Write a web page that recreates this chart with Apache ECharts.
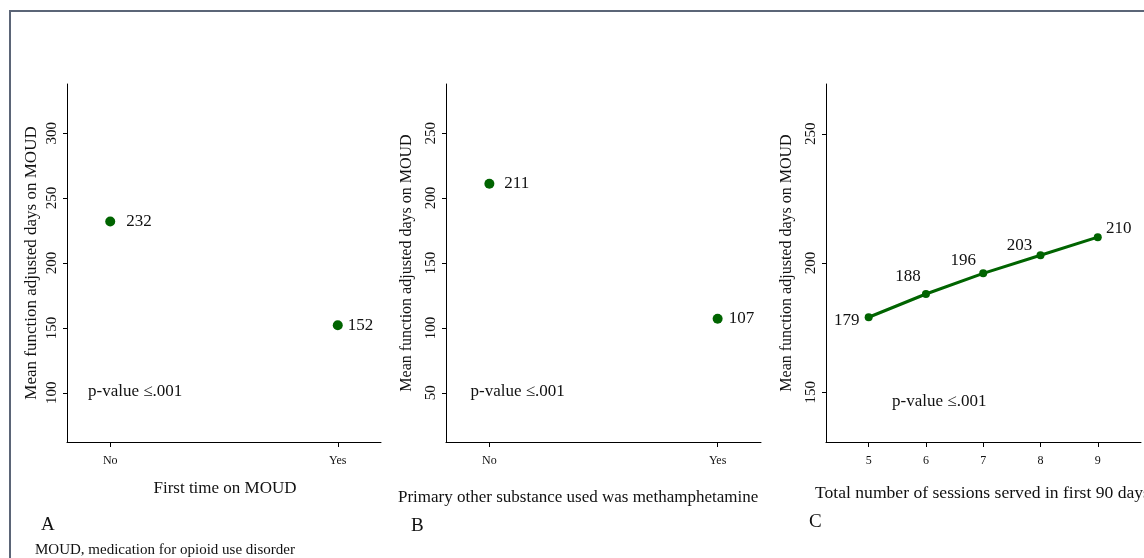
<!DOCTYPE html>
<html>
<head>
<meta charset="utf-8">
<script src="https://cdn.jsdelivr.net/npm/echarts@6/dist/echarts.min.js"></script>
<style>
html,body{margin:0;padding:0;background:#fff;}
#chart{width:1144px;height:558px;}
</style>
</head>
<body>
<div id="chart"></div>
<script>
// ---- data ----
const catsA = ['No', 'Yes'];
const valsA = [232, 152];
const catsB = ['No', 'Yes'];
const valsB = [211, 107];
const sessionsC = [5, 6, 7, 8, 9];
const valsC = [179, 188, 196, 203, 210];
const yTicksA = [100, 150, 200, 250, 300];
const yTicksB = [50, 100, 150, 200, 250];
const yTicksC = [150, 200, 250];
const pText = 'p-value \u2264.001';
const pPosA = [-0.1, 100.7];
const pPosB = [-0.085, 51];
const pPosC = [5.4, 146.3];

const FONT = '"Liberation Serif", "Times New Roman", serif';
const TXT = '#111';
const GREEN = '#006400';

function xAxisCat(gi, cats) {
  const vals = cats.map((c, i) => i);
  return {
    gridIndex: gi, type: 'value', min: -0.19, max: 1.19,
    axisLine: {show: true, onZero: false, lineStyle: {color: '#000', width: 1}},
    axisTick: {show: true, customValues: vals, length: 5, lineStyle: {color: '#000'}},
    axisLabel: {show: true, customValues: vals, margin: 13, fontFamily: FONT, fontSize: 12, color: TXT,
      formatter: v => cats[Math.round(v)]},
    splitLine: {show: false}
  };
}
function yAxisV(gi, min, max, ticks, nameSize, gap) {
  return {
    gridIndex: gi, type: 'value', min: min, max: max,
    name: 'Mean function adjusted days on MOUD', nameLocation: 'middle', nameRotate: 90,
    nameGap: gap, nameTextStyle: {fontFamily: FONT, fontSize: nameSize, color: TXT},
    axisLine: {show: true, onZero: false, lineStyle: {color: '#000', width: 1}},
    axisTick: {show: true, customValues: ticks, length: 4, lineStyle: {color: '#000'}},
    axisLabel: {show: true, customValues: ticks, rotate: 90, margin: 7, fontFamily: FONT, fontSize: 15, color: TXT},
    splitLine: {show: false}
  };
}
const valLabel = {show: true, fontFamily: FONT, fontSize: 17, color: TXT, opacity: 1};
function pSeries(xi, pos) {
  return {
    type: 'scatter', xAxisIndex: xi, yAxisIndex: xi, silent: true,
    symbolSize: 1, itemStyle: {color: 'rgba(0,0,0,0)', opacity: 1},
    data: [pos],
    label: {show: true, position: 'right', distance: 0, formatter: pText,
      fontFamily: FONT, fontSize: 17, color: TXT, opacity: 1}
  };
}

const distA = [11, 5];
const distB = [10, 6];
const offC = [[-22, 3], [-18, -17], [-20, -13], [-21, -10], [21, -9]];

const option = {
  animation: false,
  backgroundColor: '#fff',
  grid: [
    {left: 67, top: 84, width: 314, height: 358},
    {left: 446, top: 84, width: 315, height: 358},
    {left: 826, top: 84, width: 315, height: 358}
  ],
  xAxis: [
    xAxisCat(0, catsA),
    xAxisCat(1, catsB),
    {
      gridIndex: 2, type: 'value', min: 4.255, max: 9.755,
      axisLine: {show: true, onZero: false, lineStyle: {color: '#000', width: 1}},
      axisTick: {show: true, customValues: sessionsC, length: 5, lineStyle: {color: '#000'}},
      axisLabel: {show: true, customValues: sessionsC, margin: 13, fontFamily: FONT, fontSize: 12, color: TXT},
      splitLine: {show: false}
    }
  ],
  yAxis: [
    yAxisV(0, 62.1, 337.9, yTicksA, 17, 27),
    yAxisV(1, 12.1, 287.9, yTicksB, 16, 31),
    yAxisV(2, 130.7, 269.3, yTicksC, 16, 31)
  ],
  series: [
    {
      type: 'scatter', xAxisIndex: 0, yAxisIndex: 0, symbolSize: 10,
      itemStyle: {color: GREEN, opacity: 1},
      data: valsA.map((v, i) => ({value: [i, v], label: Object.assign({}, valLabel, {position: 'right', distance: distA[i]})}))
    },
    {
      type: 'scatter', xAxisIndex: 1, yAxisIndex: 1, symbolSize: 10,
      itemStyle: {color: GREEN, opacity: 1},
      data: valsB.map((v, i) => ({value: [i, v], label: Object.assign({}, valLabel, {position: 'right', distance: distB[i]})}))
    },
    {
      type: 'line', xAxisIndex: 2, yAxisIndex: 2, symbol: 'circle', symbolSize: 8, showSymbol: true,
      lineStyle: {color: GREEN, width: 3}, itemStyle: {color: GREEN, opacity: 1},
      data: sessionsC.map((s, i) => ({value: [s, valsC[i]],
        label: Object.assign({}, valLabel, {position: 'inside', offset: offC[i]})}))
    },
    pSeries(0, pPosA),
    pSeries(1, pPosB),
    pSeries(2, pPosC)
  ],
  graphic: [
    {type: 'rect', shape: {x: 10, y: 11, width: 1300, height: 700}, style: {fill: 'none', stroke: '#5b6577', lineWidth: 2}, silent: true},
    {type: 'text', x: 225, y: 489, style: {text: 'First time on MOUD', font: '17px ' + FONT, fill: TXT, textAlign: 'center', textVerticalAlign: 'middle'}},
    {type: 'text', x: 398, y: 498, style: {text: 'Primary other substance used was methamphetamine', font: '17px ' + FONT, fill: TXT, textAlign: 'left', textVerticalAlign: 'middle'}},
    {type: 'text', x: 815, y: 493, style: {text: 'Total number of sessions served in first 90 days', font: '17.6px ' + FONT, fill: TXT, textAlign: 'left', textVerticalAlign: 'middle'}},
    {type: 'text', x: 41, y: 525, style: {text: 'A', font: '19px ' + FONT, fill: TXT, textAlign: 'left', textVerticalAlign: 'middle'}},
    {type: 'text', x: 411, y: 526, style: {text: 'B', font: '19px ' + FONT, fill: TXT, textAlign: 'left', textVerticalAlign: 'middle'}},
    {type: 'text', x: 809, y: 522, style: {text: 'C', font: '19px ' + FONT, fill: TXT, textAlign: 'left', textVerticalAlign: 'middle'}},
    {type: 'text', x: 35, y: 550, style: {text: 'MOUD, medication for opioid use disorder', font: '15px ' + FONT, fill: TXT, textAlign: 'left', textVerticalAlign: 'middle'}}
  ]
};
const chart = echarts.init(document.getElementById('chart'), null, {renderer: 'canvas'});
chart.setOption(option);
</script>
</body>
</html>
